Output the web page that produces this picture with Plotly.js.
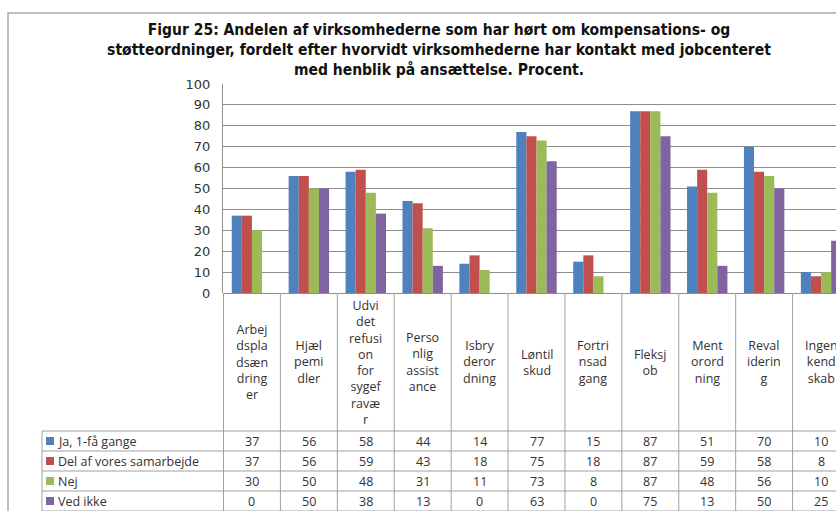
<!DOCTYPE html>
<html><head><meta charset="utf-8">
<script src="https://cdn.plot.ly/plotly-3.0.1.min.js"></script>
<style>html,body{margin:0;padding:0;overflow:hidden;background:#fff}</style>
</head><body><div id="chart"></div>
<script>
// ---- data ----
const categories = ["Arbejdspladsændringer","Hjælpemidler","Udvidet refusion for sygefravær","Personlig assistance","Isbryderordning","Løntilskud","Fortrinsadgang","Fleksjob","Mentorordning","Revalidering","Ingen kendskab"];
const categoryLabels = ["Arbej<br>dspla<br>dsæn<br>dring<br>er","Hjæl<br>pemi<br>dler","Udvi<br>det<br>refusi<br>on<br>for<br>sygef<br>ravæ<br>r","Perso<br>nlig<br>assist<br>ance","Isbry<br>deror<br>dning","Løntil<br>skud","Fortri<br>nsad<br>gang","Fleksj<br>ob","Ment<br>orord<br>ning","Reval<br>iderin<br>g","Ingen<br>kend<br>skab"];
const seriesNames = ["Ja, 1-få gange","Del af vores samarbejde","Nej","Ved ikke"];
const jaValues      = [37,56,58,44,14,77,15,87,51,70,10];
const delValues     = [37,56,59,43,18,75,18,87,59,58,8];
const nejValues     = [30,50,48,31,11,73,8,87,48,56,10];
const vedIkkeValues = [0,50,38,13,0,63,0,75,13,50,25];
const seriesValues = [jaValues, delValues, nejValues, vedIkkeValues];
const colors = ["#4F81BD","#C0504D","#9BBB59","#8064A2"];

// ---- geometry ----
const W=870, H=530, L=223, R=20, T=84, B=237;
const PW = W-L-R, PH = H-T-B;
const px = v => (v-L)/PW;
const py = v => (H-B-v)/PH;
const gridCol = "#8E8E8E";
const tableCol = "#A0A0A0";
const tableFont = {family:"Open Sans, DejaVu Sans, sans-serif", size:12.5, color:"#333"};

const traces = seriesNames.map((n,i)=>({
  type:"bar", name:n, x:categories, y:seriesValues[i],
  marker:{color:colors[i]}, hoverinfo:"skip"
}));

const shapes = [];
const annotations = [];
// frame
shapes.push({type:"rect", xref:"paper", yref:"paper", x0:px(8), x1:px(869), y0:py(13), y1:py(529),
  line:{color:"#A8A8A8", width:1.5}, layer:"below"});
// vertical table lines at category boundaries
for (let i=0;i<=categories.length;i++){
  shapes.push({type:"line", xref:"x", yref:"paper", x0:i-0.5, x1:i-0.5, y0:py(293), y1:py(530),
    line:{color:tableCol, width:1}});
}
// legend column left edge
shapes.push({type:"line", xref:"paper", yref:"paper", x0:px(42), x1:px(42), y0:py(431), y1:py(530), line:{color:tableCol,width:1}});
// horizontal table lines
[431,451,471,491,511].forEach(y=>{
  shapes.push({type:"line", xref:"paper", yref:"paper", x0:px(42), x1:px(850), y0:py(y), y1:py(y), line:{color:tableCol,width:1}});
});
// category labels
categories.forEach((c,i)=>{
  annotations.push({xref:"x", yref:"paper", x:c, y:py(362), text:categoryLabels[i], showarrow:false,
    font:tableFont, align:"center", xanchor:"center", yanchor:"middle"});
});
// rows
seriesNames.forEach((n,s)=>{
  const yc = 441 + 20*s;
  shapes.push({type:"rect", xref:"paper", yref:"paper", x0:px(46), x1:px(54), y0:py(yc-4), y1:py(yc+4),
    fillcolor:colors[s], line:{width:0}});
  annotations.push({xref:"paper", yref:"paper", x:px(56), y:py(yc), text:n, showarrow:false,
    font:tableFont, xanchor:"left", yanchor:"middle"});
  categories.forEach((c,i)=>{
    annotations.push({xref:"x", yref:"paper", x:c, y:py(yc), text:String(seriesValues[s][i]), showarrow:false,
      font:tableFont, xanchor:"center", yanchor:"middle"});
  });
});

const layout = {
  width:W, height:H,
  margin:{l:L, r:R, t:T, b:B},
  paper_bgcolor:"#fff", plot_bgcolor:"#fff",
  title:{text:"Figur 25: Andelen af virksomhederne som har hørt om kompensations- og<br>støtteordninger, fordelt efter hvorvidt virksomhederne har kontakt med jobcenteret<br>med henblik på ansættelse. Procent.",
    font:{family:"DejaVu Sans Condensed, DejaVu Sans, sans-serif", size:15.5, color:"#111", weight:"bold"},
    x:px(439), xanchor:"center", xref:"paper", y:1-35/H, yref:"container", yanchor:"top"},
  showlegend:false,
  barmode:"group", bargap:0.29, bargroupgap:0,
  xaxis:{showticklabels:false, showgrid:false, zeroline:false, showline:false, ticks:"", fixedrange:true},
  yaxis:{range:[0,100], dtick:10, tick0:0, showgrid:true, gridcolor:gridCol, gridwidth:1,
    zeroline:true, zerolinecolor:gridCol, showline:true, linecolor:gridCol, linewidth:1,
    ticks:"", ticklen:0, ticklabelstandoff:9,
    tickfont:{family:"DejaVu Sans, sans-serif", size:13, color:"#333"}},
  shapes:shapes, annotations:annotations
};
Plotly.newPlot("chart", traces, layout, {displayModeBar:false, staticPlot:true});
</script></body></html>
